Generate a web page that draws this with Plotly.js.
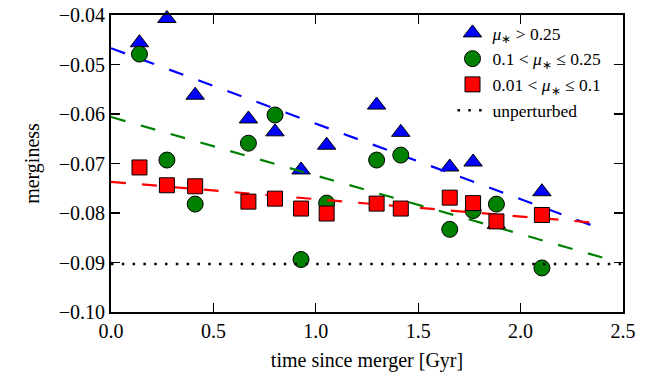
<!DOCTYPE html>
<html>
<head>
<meta charset="utf-8">
<script src="https://cdn.plot.ly/plotly-3.0.1.min.js"></script>
<style>html,body{margin:0;padding:0;background:#fff;} #chart{width:661px;height:376px;}</style>
</head>
<body>
<div id="chart"></div>
<script>
// time since merger [Gyr]
const times = [0.139, 0.273, 0.411, 0.671, 0.801, 0.928, 1.053, 1.297, 1.415, 1.654, 1.768, 1.882, 2.104];
// merginess, mu* > 0.25 (blue triangles)
const highMu = [-0.0456, -0.0407, -0.0562, -0.0610, -0.0636, -0.0713, -0.0663, -0.0582, -0.0637, -0.0707, -0.0697, -0.0823, -0.0757];
// merginess, 0.1 < mu* <= 0.25 (green circles)
const midMu = [-0.0479, -0.0693, -0.0782, -0.0659, -0.0602, -0.0894, -0.0780, -0.0693, -0.0683, -0.0833, -0.0795, -0.0782, -0.0911];
// merginess, 0.01 < mu* <= 0.1 (red squares)
const lowMu = [-0.0708, -0.0744, -0.0746, -0.0777, -0.0771, -0.0791, -0.0801, -0.0781, -0.0791, -0.0769, -0.0780, -0.0817, -0.0804];
// linear fits (end points)
const fitX = [0, 2.4];
const highFit = [-0.0467, -0.0833];
const midFit = [-0.0606, -0.0890];
const lowFit = [-0.0737, -0.0821];
// unperturbed level
const unpertX = [0, 2.5];
const unpertY = [-0.0903, -0.0903];
// ticks
const xTicks = [0, 0.5, 1.0, 1.5, 2.0, 2.5];
const xTickText = ['0.0', '0.5', '1.0', '1.5', '2.0', '2.5'];
const yTicks = [-0.10, -0.09, -0.08, -0.07, -0.06, -0.05, -0.04];
const yTickText = ['\u22120.10', '\u22120.09', '\u22120.08', '\u22120.07', '\u22120.06', '\u22120.05', '\u22120.04'];
const labels = [
  '<i>\u03bc</i><sub>\u2217</sub> &gt; 0.25',
  '0.1 &lt; <i>\u03bc</i><sub>\u2217</sub> \u2264 0.25',
  '0.01 &lt; <i>\u03bc</i><sub>\u2217</sub> \u2264 0.1',
  'unperturbed'
];

const serif = 'Liberation Serif, Times New Roman, serif';
const dashPat = '15px,16px';

const traces = [
  {x: times, y: highMu, mode: 'markers', name: labels[0], cliponaxis: false,
   marker: {symbol: 'triangle-up', size: 16, color: '#0000ff', line: {color: '#000', width: 1}}},
  {x: fitX, y: highFit, mode: 'lines', showlegend: false, line: {color: '#0000ff', width: 2.2, dash: dashPat}},
  {x: fitX, y: midFit, mode: 'lines', showlegend: false, line: {color: '#008000', width: 2.2, dash: dashPat}},
  {x: times, y: midMu, mode: 'markers', name: labels[1], cliponaxis: false,
   marker: {symbol: 'circle', size: 16, color: '#008000', line: {color: '#000', width: 1}}},
  {x: fitX, y: lowFit, mode: 'lines', showlegend: false, line: {color: '#ff0000', width: 2.2, dash: dashPat}},
  {x: times, y: lowMu, mode: 'markers', name: labels[2], cliponaxis: false,
   marker: {symbol: 'square', size: 15, color: '#ff0000', line: {color: '#000', width: 1}}},
  {x: unpertX, y: unpertY, mode: 'lines', name: labels[3], line: {color: '#000', width: 2.5, dash: '2.5px,8.3px'}}
];

const axisCommon = {
  showgrid: false, zeroline: false, showline: true, linecolor: '#000', linewidth: 2,
  mirror: 'ticks', ticks: 'inside', ticklen: 9, tickwidth: 1.2, tickcolor: '#000',
  tickfont: {family: serif, size: 20, color: '#000'}
};

const layout = {
  width: 661, height: 376,
  margin: {l: 111, r: 38, t: 15, b: 64},
  paper_bgcolor: '#fff', plot_bgcolor: '#fff',
  showlegend: true,
  legend: {x: 0.667, y: 1.0, xanchor: 'left', yanchor: 'top', bgcolor: 'rgba(0,0,0,0)',
           font: {family: serif, size: 17.5, color: '#000'}, tracegroupgap: 0},
  xaxis: Object.assign({}, axisCommon, {
    range: [0, 2.5], tickvals: xTicks, ticktext: xTickText,
    title: {text: 'time since merger [Gyr]', font: {family: serif, size: 20, color: '#000'}, standoff: 12}
  }),
  yaxis: Object.assign({}, axisCommon, {
    range: [-0.10, -0.04], tickvals: yTicks, ticktext: yTickText,
    title: {text: 'merginess', font: {family: serif, size: 20, color: '#000'}, standoff: 14}
  })
};

Plotly.newPlot('chart', traces, layout, {displayModeBar: false, staticPlot: true});
</script>
</body>
</html>
